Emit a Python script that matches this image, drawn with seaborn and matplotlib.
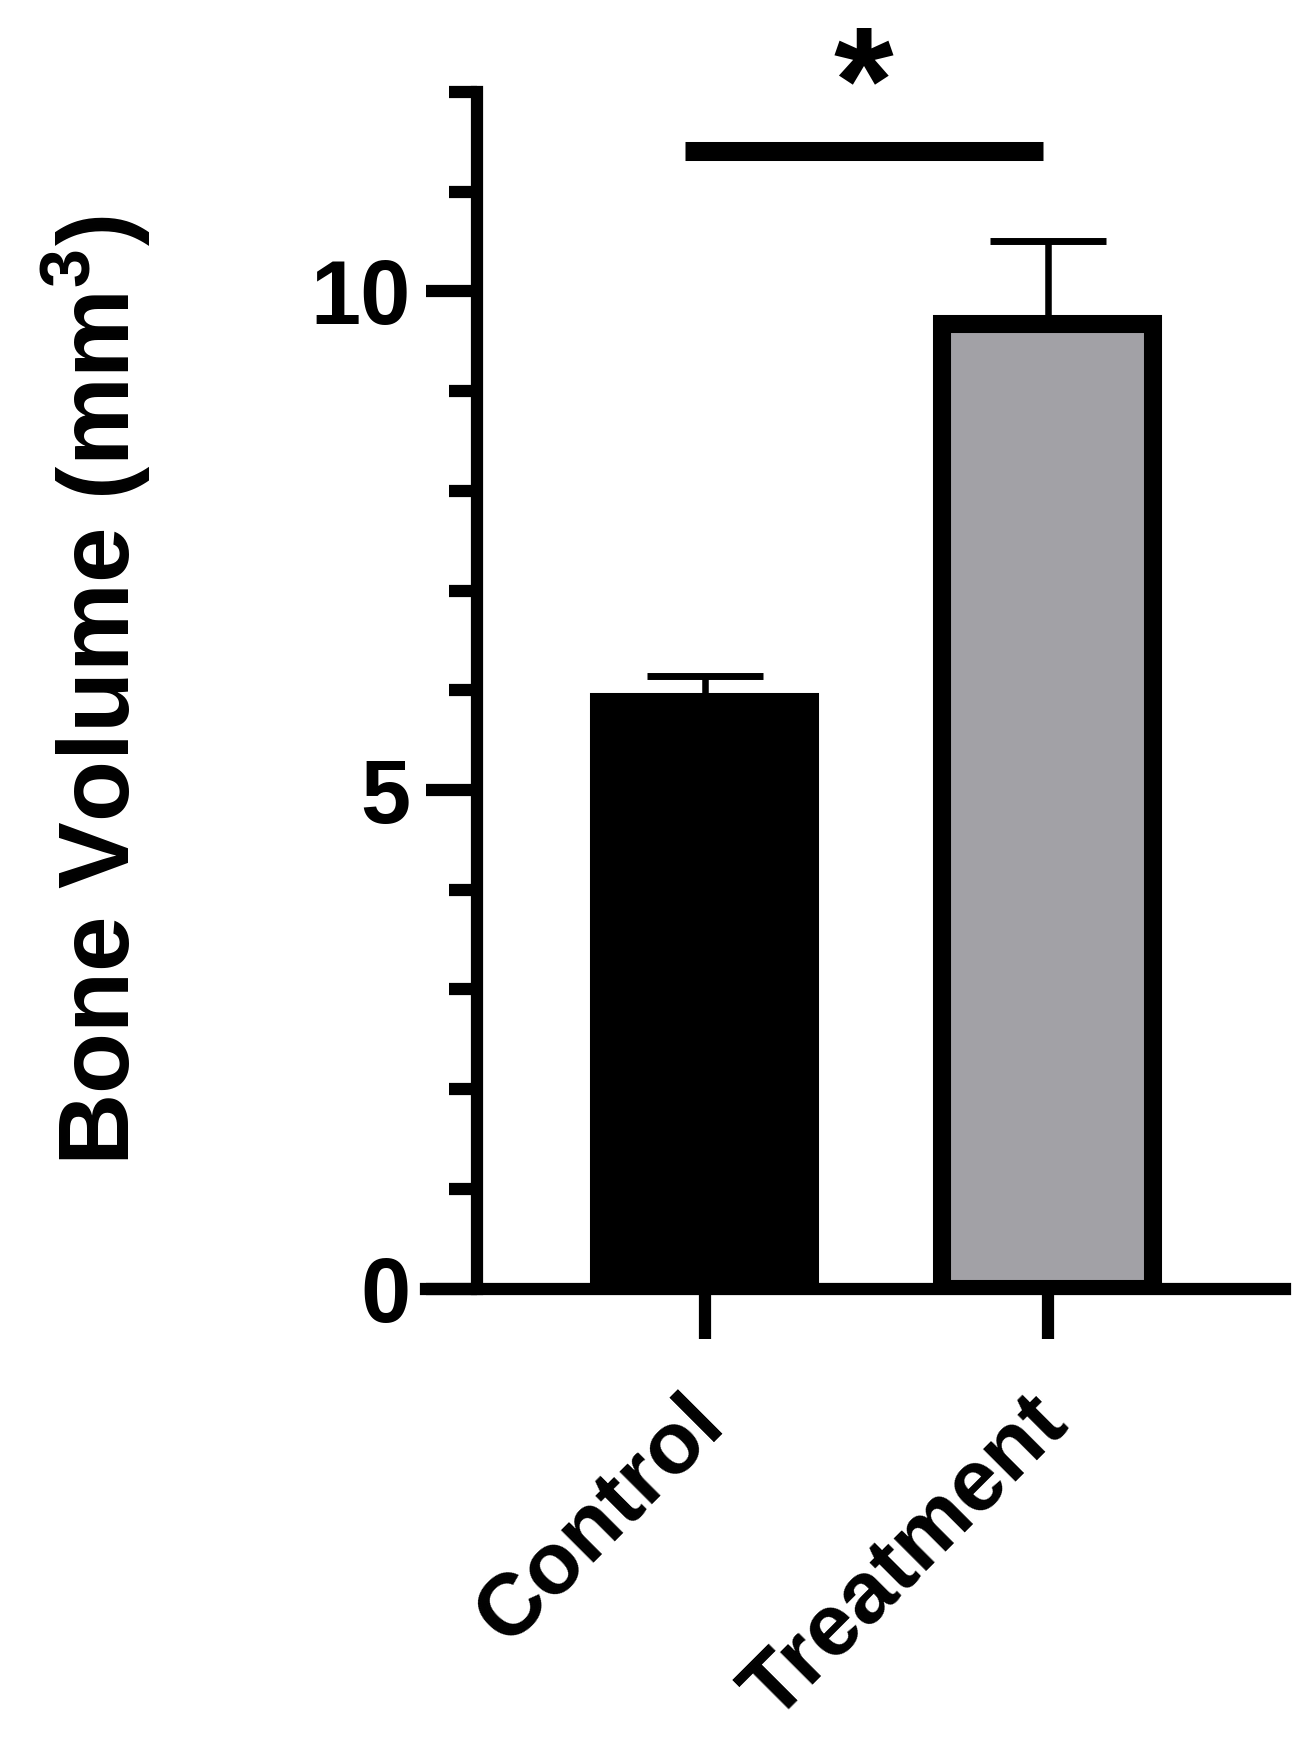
import pandas as pd
import matplotlib
matplotlib.use("Agg")
import matplotlib.pyplot as plt
import matplotlib.transforms as mtransforms
from matplotlib.textpath import TextPath
from matplotlib.font_manager import FontProperties
import seaborn as sns

# data
groups = ["Control", "Treatment"]
means = [5.88, 9.67]
sem = [0.26, 0.84]
bar_colors = ["#000000", "#a2a1a6"]
sig_pair = (-0.058, 0.985)
sig_y = 11.41
sig_label = "*"

sns.set_theme(style="ticks")
plt.rcParams["font.family"] = ["Liberation Sans", "DejaVu Sans"]
plt.rcParams["font.weight"] = "bold"
plt.rcParams["mathtext.fontset"] = "custom"
plt.rcParams["mathtext.bf"] = "Liberation Sans:bold"
plt.rcParams["mathtext.rm"] = "Liberation Sans:bold"

df = pd.DataFrame({"group": groups, "volume": means})

W, H, DPI = 1303, 1746, 100
fig = plt.figure(figsize=(W / DPI, H / DPI), dpi=DPI)
ax = fig.add_axes([0.3269, 0.2620, 0.6593, 0.6853])

lw = 8.8
sns.barplot(data=df, x="group", y="volume", hue="group", palette=bar_colors,
            saturation=1, width=0.615, edgecolor="black", linewidth=13,
            errorbar=None, legend=False, ax=ax)

# upper error bars only
ax.errorbar(range(len(groups)), means, yerr=[[0] * len(sem), sem], fmt="none",
            ecolor="black", elinewidth=4.7, capsize=41.8, capthick=5, zorder=0.5)

# significance bar
ax.plot(sig_pair, [sig_y, sig_y], color="black", lw=13.7,
        solid_capstyle="butt", clip_on=False)

# star: size it so the glyph ink is ~57 px tall, sitting ~67 px above the bar
fp = FontProperties(family="Liberation Sans", weight="bold")
ext = TextPath((0, 0), sig_label, size=1, prop=fp).get_extents()
star_pt = 57 * 72 / DPI / ext.height
lift = mtransforms.ScaledTranslation(0, (67 / DPI) - ext.y0 * star_pt / 72 - 0.0, fig.dpi_scale_trans)
ax.text(sum(sig_pair) / 2, sig_y, sig_label, ha="center", va="baseline",
        fontsize=star_pt, fontweight="bold", color="black", clip_on=False,
        transform=ax.transData + lift)

ax.set_xlim(-0.812, 1.691)
ax.set_ylim(0, 12)
ax.set_yticks([0, 5, 10])
ax.set_yticks([1, 2, 3, 4, 6, 7, 8, 9, 11, 12], minor=True)
ax.set_yticklabels(["0", "5", "10"])

for s in ["top", "right"]:
    ax.spines[s].set_visible(False)
ax.spines["left"].set_position(("data", -0.663))
for s in ["left", "bottom"]:
    ax.spines[s].set_linewidth(lw)
    ax.spines[s].set_color("black")

ax.tick_params(axis="y", which="major", length=37, width=lw, pad=10.8,
               labelsize=65, color="black", labelcolor="black")
ax.tick_params(axis="y", which="minor", length=20.5, width=lw, color="black")
ax.tick_params(axis="x", which="major", length=36, width=lw, pad=52,
               labelsize=63, color="black", labelcolor="black")
shift = mtransforms.ScaledTranslation(0.06, 0, fig.dpi_scale_trans)
for lab in ax.get_xticklabels():
    lab.set_rotation(45)
    lab.set_ha("right")
    lab.set_va("center")
    lab.set_rotation_mode("anchor")
    lab.set_fontweight("bold")
    lab.set_transform(lab.get_transform() + shift)
for lab in ax.get_yticklabels():
    lab.set_fontweight("bold")

ax.set_xlabel("")
ax.set_ylabel(r"Bone Volume (mm$^{\mathbf{3}}$)", fontsize=72, fontweight="bold",
              color="black")
ax.yaxis.label.set_verticalalignment("baseline")
ax.yaxis.set_label_coords(-0.3446, 0.5)

fig.savefig("out.png", dpi=DPI, facecolor="white")
